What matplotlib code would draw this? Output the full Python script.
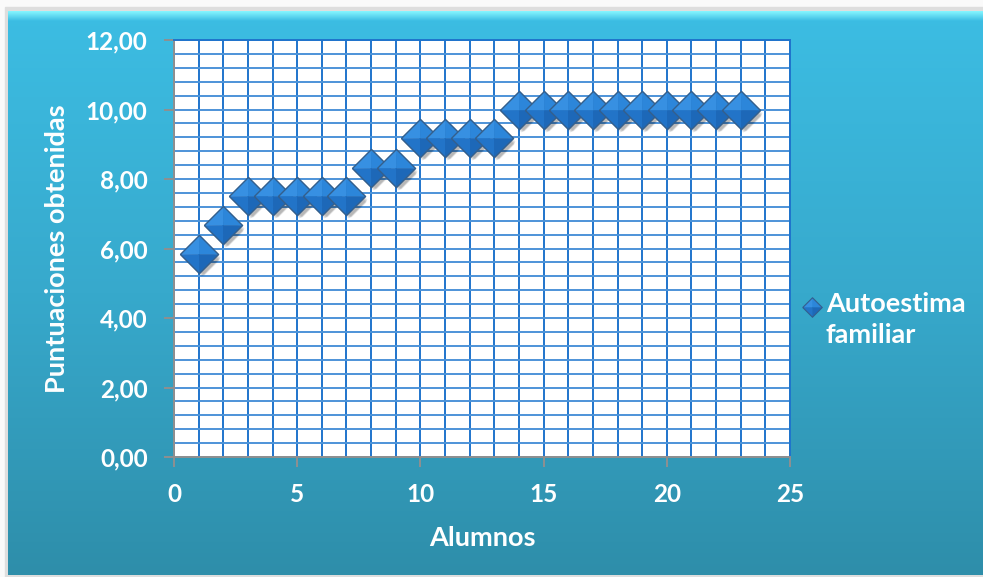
import numpy as np
import matplotlib.pyplot as plt
from matplotlib.path import Path
from matplotlib.lines import Line2D
from matplotlib.ticker import MultipleLocator, FuncFormatter
from matplotlib.colors import LinearSegmentedColormap
import matplotlib.transforms as mtransforms

plt.rcParams['font.family'] = ['Lato', 'DejaVu Sans']
plt.rcParams['font.weight'] = 'bold'

# Puntuaciones por alumno
alumnos = list(range(1, 24))
puntuaciones = [5.83, 6.67, 7.50, 7.50, 7.50, 7.50, 7.50, 8.33, 8.33,
                9.17, 9.17, 9.17, 9.17, 10.00, 10.00, 10.00, 10.00, 10.00,
                10.00, 10.00, 10.00, 10.00, 10.00]
serie = "Autoestima\nfamiliar"

W, H = 983, 577
fig = plt.figure(figsize=(W / 100, H / 100), dpi=100)

# fondo con degradado
bg = fig.add_axes([0, 0, 1, 1], zorder=-5)
bg.set_xlim(0, W)
bg.set_ylim(H, 0)
bg.axis('off')
bg.add_patch(plt.Rectangle((0, 0), W, H, color='#fafafa'))
bg.add_patch(plt.Rectangle((5, 7), W, H, color='#dedede'))
grad = LinearSegmentedColormap.from_list('g', ['#3cbde3', '#37a9cc', '#2e8eaa'])
bg.imshow(np.linspace(0, 1, 256).reshape(-1, 1), cmap=grad, aspect='auto',
          extent=(8, W, 575, 11), zorder=2)
hl = LinearSegmentedColormap.from_list('h', ['#86f6ff', '#3cbde3'])
bg.imshow(np.linspace(0, 1, 32).reshape(-1, 1), cmap=hl, aspect='auto',
          extent=(8, W, 21, 11), zorder=3)

ax = fig.add_axes([174 / W, 1 - 457 / H, (790 - 174) / W, (457 - 40) / H])
ax.set_facecolor('white')
ax.set_xlim(0, 25)
ax.set_ylim(0, 12)

ax.xaxis.set_major_locator(MultipleLocator(5))
ax.xaxis.set_minor_locator(MultipleLocator(1))
ax.yaxis.set_major_locator(MultipleLocator(2))
ax.yaxis.set_minor_locator(MultipleLocator(0.4))
ax.yaxis.set_major_formatter(FuncFormatter(lambda v, p: f"{v:.2f}".replace('.', ',')))

ax.grid(True, which='both', axis='x', color='#1f74cc', lw=1.4)
ax.grid(True, which='both', axis='y', color='#4d93d8', lw=1.4)
ax.set_axisbelow(True)

for s in ['left', 'bottom']:
    ax.spines[s].set_color('#8f8f8f')
    ax.spines[s].set_linewidth(1.4)
for s in ['top', 'right']:
    ax.spines[s].set_color('#1f74cc')
    ax.spines[s].set_linewidth(1.4)

ax.tick_params(which='major', direction='out', length=7, width=1.4, color='#8f8f8f',
               labelcolor='white', labelsize=17.5)
ax.tick_params(which='minor', length=0)
ax.tick_params(axis='x', pad=12)
ax.tick_params(axis='y', pad=12)

ax.set_xlabel("Alumnos", color='white', fontsize=19.5, fontweight='bold', labelpad=14)
ax.set_ylabel("Puntuaciones obtenidas", color='white', fontsize=19.5, fontweight='bold',
              labelpad=12)

# rombos con facetas (efecto bisel)
facetas = [
    ([(0, 0), (-1, 0), (0, 1), (0, 0)], '#3790e2'),
    ([(0, 0), (0, 1), (1, 0), (0, 0)], '#2c86da'),
    ([(0, 0), (-1, 0), (0, -1), (0, 0)], '#2274c8'),
    ([(0, 0), (0, -1), (1, 0), (0, 0)], '#1d68b8'),
]
rombo = Path([(-1, 0), (0, 1), (1, 0), (0, -1), (-1, 0)])
ms = 27.5

for k in range(4):
    t = mtransforms.offset_copy(ax.transData, fig=fig, x=2 + k, y=-3 - k, units='dots')
    ax.plot(alumnos, puntuaciones, ls='none', marker=rombo, ms=ms - 2 * k,
            mfc=(0, 0, 0, 0.08), mec='none', transform=t, zorder=3, clip_on=False)

for i, (x, y) in enumerate(zip(alumnos, puntuaciones)):
    for verts, col in facetas:
        ax.plot([x], [y], ls='none', marker=Path(verts), ms=ms, mfc=col,
                mec=col, mew=0.3, zorder=4 + i * 0.01, clip_on=False)
    ax.plot([x], [y], ls='none', marker=rombo, ms=ms, mfc='none', mec='#345f8c',
            mew=1.0, zorder=4 + i * 0.01 + 0.005, clip_on=False)

# leyenda
lx, ly = 812 / W, 1 - 307 / H
for verts, col in facetas:
    fig.add_artist(Line2D([lx], [ly], transform=fig.transFigure, ls='none',
                          marker=Path(verts), ms=14, mfc=col, mec=col, mew=0.3))
fig.add_artist(Line2D([lx], [ly], transform=fig.transFigure, ls='none', marker=rombo,
                      ms=14, mfc='none', mec='#345f8c', mew=0.8))
fig.text(826 / W, 1 - 292 / H, serie, color='white', fontsize=19.5, fontweight='bold',
         va='top', ha='left', linespacing=1.35)

fig.savefig('out.png', dpi=100)
